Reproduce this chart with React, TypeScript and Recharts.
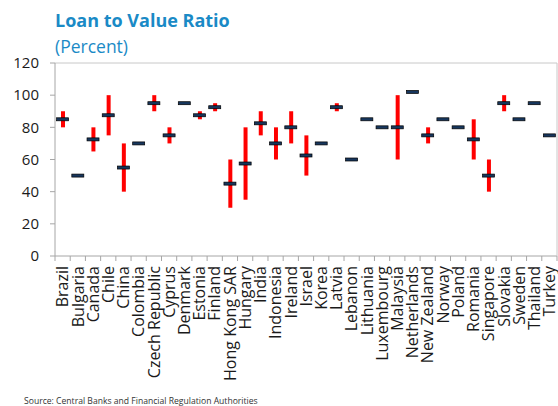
import {
  ComposedChart,
  Bar,
  Line,
  XAxis,
  YAxis,
  ReferenceLine,
} from "recharts";

// ----- Data -----
const countries = [
  "Brazil", "Bulgaria", "Canada", "Chile", "China", "Colombia", "Czech Republic",
  "Cyprus", "Denmark", "Estonia", "Finland", "Hong Kong SAR", "Hungary", "India",
  "Indonesia", "Ireland", "Israel", "Korea", "Latvia", "Lebanon", "Lithuania",
  "Luxembourg", "Malaysia", "Netherlands", "New Zealand", "Norway", "Poland",
  "Romania", "Singapore", "Slovakia", "Sweden", "Thailand", "Turkey",
];

// typical LTV (horizontal marker)
const typical = [
  85, 50, 72.5, 87.5, 55, 70, 95, 75, 95, 87.5, 92.5, 45, 57.5, 82.5, 70, 80,
  62.5, 70, 92.5, 60, 85, 80, 80, 102, 75, 85, 80, 72.5, 50, 95, 85, 95, 75,
];

// range of LTV caps (red bars); null = no range
const lows = [
  80, null, 65, 75, 40, null, 90, 70, null, 85, 90, 30, 35, 75, 60, 70, 50, null,
  90, null, null, null, 60, null, 70, null, null, 60, 40, 90, null, null, null,
];
const highs = [
  90, null, 80, 100, 70, null, 100, 80, null, 90, 95, 60, 80, 90, 80, 90, 75, null,
  95, null, null, null, 100, null, 80, null, null, 85, 60, 100, null, null, null,
];

const yTicks = [0, 20, 40, 60, 80, 100, 120];

const data = countries.map((name, i) => ({
  name,
  mark: typical[i],
  range: lows[i] != null ? [lows[i], highs[i]] : null,
}));

// ----- Styling -----
const FONT = "'Open Sans', sans-serif";
const BLUE = "#1a8ac6";
const AXIS = "#a6a6a6";
const WIDTH = 558;
const HEIGHT = 406;
const BAND = (WIDTH - 55 - 1) / countries.length;

// dark horizontal marker for the typical value
function MarkDot(props: any) {
  const { cx, cy, index } = props;
  if (cx == null || cy == null) return null;
  return (
    <rect
      key={`m-${index}`}
      x={cx - 6}
      y={cy - 1.5}
      width={12}
      height={3}
      fill="#17365d"
      stroke="#000"
      strokeWidth={0.7}
    />
  );
}

// category label rotated, with tick marks on band boundaries (Excel style)
function CountryTick(props: any) {
  const { x, y, payload, index } = props;
  const half = BAND / 2;
  return (
    <g>
      <line x1={x - half} y1={y} x2={x - half} y2={y + 5} stroke={AXIS} />
      {index === countries.length - 1 && (
        <line x1={x + half} y1={y} x2={x + half} y2={y + 5} stroke={AXIS} />
      )}
      <text
        transform={`translate(${x},${y + 10}) rotate(-90)`}
        textAnchor="end"
        dy="0.36em"
        fontSize={16}
        fontFamily={FONT}
        fill="#1a1a1a"
      >
        {payload.value}
      </text>
    </g>
  );
}

export default function App() {
  return (
    <div
      style={{
        position: "absolute",
        left: 0,
        top: 0,
        width: WIDTH,
        height: HEIGHT,
        overflow: "hidden",
        background: "#fff",
      }}
    >
      <ComposedChart
        width={WIDTH}
        height={HEIGHT}
        data={data}
        margin={{ top: 63, right: 0, left: 0, bottom: 0 }}
      >
        <XAxis
          dataKey="name"
          interval={0}
          height={150}
          tickLine={false}
          tickSize={0}
          tickMargin={0}
          axisLine={{ stroke: AXIS }}
          tick={<CountryTick />}
        />
        <YAxis
          domain={[0, 120]}
          ticks={yTicks}
          width={55}
          tickSize={5}
          tickMargin={11}
          axisLine={{ stroke: AXIS }}
          tickLine={{ stroke: AXIS }}
          tick={{ fill: "#1a1a1a", fontSize: 15, fontFamily: FONT }}
        />
        <YAxis
          yAxisId="frame"
          orientation="right"
          width={1}
          tick={false}
          tickLine={false}
          axisLine={{ stroke: "#c8c8c8" }}
        />
        <ReferenceLine y={120} stroke="#c8c8c8" />
        <Bar
          dataKey="range"
          fill="#ff0000"
          barSize={4}
          isAnimationActive={false}
        />
        <Line
          dataKey="mark"
          stroke="none"
          dot={<MarkDot />}
          activeDot={false}
          isAnimationActive={false}
        />
      </ComposedChart>
      <svg
        width={WIDTH}
        height={HEIGHT}
        style={{ position: "absolute", left: 0, top: 0, pointerEvents: "none" }}
      >
        <text x={55} y={27} fontSize={18} fontWeight={700} fontFamily={FONT} fill={BLUE}>
          Loan to Value Ratio
        </text>
        <text x={55} y={53} fontSize={17.5} fontFamily={FONT} fill={BLUE}>
          (Percent)
        </text>
        <text x={24} y={404} fontSize={8.6} fontFamily={FONT} fill="#333">
          Source: Central Banks and Financial Regulation Authorities
        </text>
      </svg>
    </div>
  );
}
